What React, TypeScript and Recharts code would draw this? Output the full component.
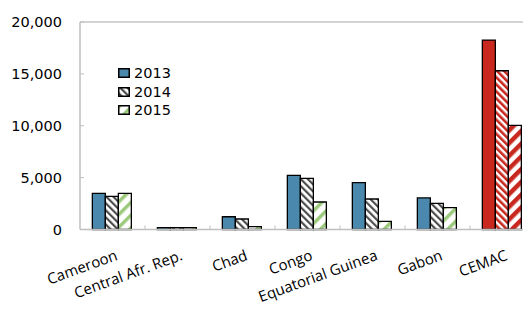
import React from "react";
import { BarChart, Bar, XAxis, YAxis, Legend, Cell, ReferenceLine, Text } from "recharts";

const categories = ["Cameroon", "Central Afr. Rep.", "Chad", "Congo", "Equatorial Guinea", "Gabon", "CEMAC"];
const v2013 = [3490, 180, 1230, 5220, 4510, 3040, 18260];
const v2014 = [3200, 180, 1010, 4930, 2940, 2520, 15300];
const v2015 = [3490, 180, 270, 2650, 790, 2100, 10040];
const yTicks = [0, 5000, 10000, 15000, 20000];

const data = categories.map((name, i) => ({
  name,
  y2013: v2013[i],
  y2014: v2014[i],
  y2015: v2015[i],
}));

const BLUE = "#4a89ad";
const RED = "#c8281e";
const GREEN = "#9cc97c";
const AXIS = "#bfbfbf";

// fills per series: normal countries vs the CEMAC total
const fills: Record<string, [string, string]> = {
  y2013: [BLUE, RED],
  y2014: ["url(#hatchGray)", "url(#hatchRedFine)"],
  y2015: ["url(#hatchGreen)", "url(#hatchRedWide)"],
};

const legendItems = [
  { key: "y2013", label: "2013" },
  { key: "y2014", label: "2014" },
  { key: "y2015", label: "2015" },
];

const Patterns = () => (
  <defs>
    <pattern id="hatchGray" patternUnits="userSpaceOnUse" width="5" height="5" patternTransform="rotate(-45)">
      <rect width="5" height="5" fill="#fff" />
      <rect width="2.2" height="5" fill="#4d4d4d" />
    </pattern>
    <pattern id="hatchGreen" patternUnits="userSpaceOnUse" width="9" height="9" patternTransform="rotate(45)">
      <rect width="9" height="9" fill="#fff" />
      <rect width="3.5" height="9" fill={GREEN} />
    </pattern>
    <pattern id="hatchRedFine" patternUnits="userSpaceOnUse" width="5" height="5" patternTransform="rotate(-45)">
      <rect width="5" height="5" fill="#fff" />
      <rect width="2.6" height="5" fill={RED} />
    </pattern>
    <pattern id="hatchRedWide" patternUnits="userSpaceOnUse" width="9" height="9" patternTransform="rotate(45)">
      <rect width="9" height="9" fill="#fff" />
      <rect width="4.5" height="9" fill={RED} />
    </pattern>
  </defs>
);

// category label plus a small tick at the left boundary of the category
const renderXTick = (props: any) => {
  const { x, y, payload } = props;
  const half = payload.offset || 0;
  const axisY = y - 2;
  return (
    <g>
      {payload.index > 0 && (
        <line x1={x - half} x2={x - half} y1={axisY} y2={axisY - 4} stroke={AXIS} />
      )}
      <Text
        x={x + 6}
        y={axisY + 30}
        angle={-20}
        textAnchor="end"
        fontFamily="Open Sans"
        fontSize={15}
        fill="#000"
      >
        {payload.value}
      </Text>
    </g>
  );
};

const LegendContent = () => (
  <div style={{ fontFamily: "DejaVu Sans", fontSize: 14.5, color: "#000" }}>
    {legendItems.map((it) => (
      <div key={it.key} style={{ display: "flex", alignItems: "center", height: 18.5 }}>
        <svg width={12} height={10} style={{ marginRight: 4 }}>
          <rect x={0.75} y={0.75} width={10.5} height={8.5} fill={fills[it.key][0]} stroke="#000" strokeWidth={1.5} />
        </svg>
        <span>{it.label}</span>
      </div>
    ))}
  </div>
);

export default function App() {
  return (
    <div style={{ position: "absolute", left: 0, top: 0, width: 523, height: 311, overflow: "hidden", background: "#fff" }}>
      <BarChart
        width={545}
        height={311}
        data={data}
        margin={{ top: 22, right: 10, bottom: 51.5, left: 0 }}
        barCategoryGap="19%"
        barGap={0}
      >
        <Patterns />
        <XAxis
          dataKey="name"
          height={30}
          axisLine={{ stroke: AXIS, strokeWidth: 1.5 }}
          tickLine={false}
          tickSize={0}
          tickMargin={2}
          interval={0}
          tick={renderXTick}
        />
        <YAxis
          width={80}
          domain={[0, 20000]}
          ticks={yTicks}
          tickSize={-4}
          tickMargin={22}
          axisLine={{ stroke: AXIS, strokeWidth: 1.5 }}
          tickLine={{ stroke: AXIS }}
          tick={{ fontFamily: "DejaVu Sans", fontSize: 14.5, fill: "#000" }}
          tickFormatter={(v: number) => v.toLocaleString("en-US")}
        />
        <ReferenceLine y={20000} stroke="#c4c4c4" strokeWidth={1.5} />
        {legendItems.map((it) => (
          <Bar key={it.key} dataKey={it.key} name={it.label} stroke="#000" strokeWidth={1.3} isAnimationActive={false}>
            {data.map((d) => (
              <Cell key={d.name} fill={fills[it.key][d.name === "CEMAC" ? 1 : 0]} />
            ))}
          </Bar>
        ))}
        <Legend
          layout="vertical"
          align="center"
          verticalAlign="middle"
          content={<LegendContent />}
          wrapperStyle={{ left: 118, top: 64, width: 80 }}
        />
      </BarChart>
    </div>
  );
}
